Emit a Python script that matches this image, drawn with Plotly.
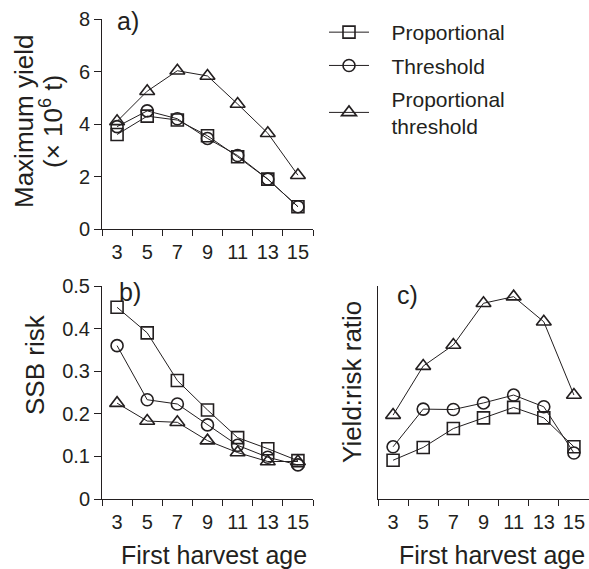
import plotly.graph_objects as go

ages = [3, 5, 7, 9, 11, 13, 15]
tick_bounds = [2, 4, 6, 8, 10, 12, 14, 16]

# Panel a: maximum yield (x 10^6 t)
yield_prop = [3.6, 4.3, 4.15, 3.55, 2.75, 1.9, 0.85]
yield_thr = [3.9, 4.5, 4.2, 3.45, 2.8, 1.9, 0.85]
yield_pthr = [4.1, 5.25, 6.03, 5.83, 4.76, 3.65, 2.05]

# Panel b: SSB risk
risk_prop = [0.45, 0.39, 0.278, 0.209, 0.144, 0.118, 0.09]
risk_thr = [0.36, 0.233, 0.223, 0.174, 0.126, 0.098, 0.08]
risk_pthr = [0.225, 0.183, 0.18, 0.137, 0.109, 0.088, 0.088]

# Panel c: yield:risk ratio (relative units, no scale shown)
ratio_prop = [0.182, 0.242, 0.331, 0.381, 0.43, 0.381, 0.245]
ratio_thr = [0.245, 0.422, 0.42, 0.451, 0.488, 0.433, 0.216]
ratio_pthr = [0.394, 0.624, 0.723, 0.919, 0.95, 0.832, 0.488]

NB = "\u00a0\u00a0\u00a0"
series_names = [NB + "Proportional", NB + "Threshold", NB + "Proportional<br>" + NB + "threshold"]
symbols = ["square-open", "circle-open", "triangle-up-open"]
sizes = [12, 12, 13]

INK = "#231f20"
FONT = "Liberation Sans, Arial, Helvetica, sans-serif"

W, H = 589, 569
def px_x(x):
    return x / W
def px_y(y):
    return 1 - y / H

fig = go.Figure()

panels = [
    ("x", "y", [yield_prop, yield_thr, yield_pthr], True),
    ("x2", "y2", [risk_prop, risk_thr, risk_pthr], False),
    ("x3", "y3", [ratio_prop, ratio_thr, ratio_pthr], False),
]
for xa, ya, data, show in panels:
    for i, vals in enumerate(data):
        fig.add_trace(go.Scatter(
            x=ages, y=vals, xaxis=xa, yaxis=ya,
            mode="lines+markers",
            name=series_names[i],
            legendgroup=str(i),
            showlegend=show,
            line=dict(color=INK, width=1),
            marker=dict(symbol=symbols[i], size=sizes[i], color=INK,
                        line=dict(color=INK, width=1.6)),
        ))

xcommon = dict(
    range=[2, 16], tickvals=ages, ticktext=[str(a) for a in ages],
    ticks="outside", ticklen=5, tickcolor="rgba(0,0,0,0)",
    showline=True, linecolor=INK, linewidth=1,
    showgrid=False, zeroline=False, automargin=False,
    tickfont=dict(family=FONT, size=20, color=INK),
    minor=dict(tickvals=tick_bounds, ticks="outside", ticklen=6,
               tickcolor=INK, tickwidth=1, showgrid=False),
)
ycommon = dict(ticks="outside", ticklen=7, tickcolor=INK,
               showline=True, linecolor=INK, showgrid=False, zeroline=False,
               automargin=False,
               tickfont=dict(family=FONT, size=20, color=INK))

dom_ab_x = [px_x(102), px_x(313)]
dom_c_x = [px_x(378), 1.0]
dom_a_y = [px_y(229), px_y(19)]
dom_bc_y = [px_y(499), px_y(286)]

fig.update_layout(
    width=W, height=H,
    margin=dict(l=0, r=0, t=0, b=0, autoexpand=False),
    paper_bgcolor="white", plot_bgcolor="white",
    font=dict(family=FONT, color=INK),
    xaxis=dict(domain=dom_ab_x, anchor="y", **xcommon),
    yaxis=dict(domain=dom_a_y, anchor="x", range=[0, 8], tickvals=[0, 2, 4, 6, 8],
               **ycommon),
    xaxis2=dict(domain=dom_ab_x, anchor="y2", **xcommon),
    yaxis2=dict(domain=dom_bc_y, anchor="x2", range=[0, 0.5],
                tickvals=[0, 0.1, 0.2, 0.3, 0.4, 0.5],
                ticktext=["0", "0.1", "0.2", "0.3", "0.4", "0.5"],
                **ycommon),
    xaxis3=dict(domain=dom_c_x, anchor="y3", **xcommon),
    yaxis3=dict(domain=dom_bc_y, anchor="x3", range=[0, 1],
                showticklabels=False, ticks="", automargin=False,
                showline=True, linecolor=INK, showgrid=False, zeroline=False),
    legend=dict(
        x=px_x(324), y=px_y(12), xanchor="left", yanchor="top",
        font=dict(family=FONT, size=21, color=INK),
        bgcolor="rgba(0,0,0,0)", itemwidth=40,
        tracegroupgap=3,
    ),
)

ann = [
    dict(text="Maximum yield", x=px_x(24), y=px_y(122), textangle=-90, size=26),
    dict(text="(× 10<sup>6</sup> t)", x=px_x(51), y=px_y(122), textangle=-90, size=26),
    dict(text="SSB risk", x=px_x(35), y=px_y(365), textangle=-90, size=26),
    dict(text="Yield:risk ratio", x=px_x(352), y=px_y(382), textangle=-90, size=26),
    dict(text="First harvest age", x=px_x(214), y=px_y(555), textangle=0, size=25),
    dict(text="First harvest age", x=px_x(492), y=px_y(555), textangle=0, size=25),
    dict(text="a)", x=px_x(128), y=px_y(21), textangle=0, size=25),
    dict(text="b)", x=px_x(130), y=px_y(292), textangle=0, size=25),
    dict(text="c)", x=px_x(407), y=px_y(295), textangle=0, size=25),
]
for a in ann:
    fig.add_annotation(text=a["text"], x=a["x"], y=a["y"], xref="paper", yref="paper",
                       xanchor="center", yanchor="middle", showarrow=False,
                       textangle=a["textangle"],
                       font=dict(family=FONT, size=a["size"], color=INK))

fig.write_html(
    "out.html",
    config={"displayModeBar": False},
    post_script="document.body.style.margin='0';document.body.style.overflow='hidden';",
)
